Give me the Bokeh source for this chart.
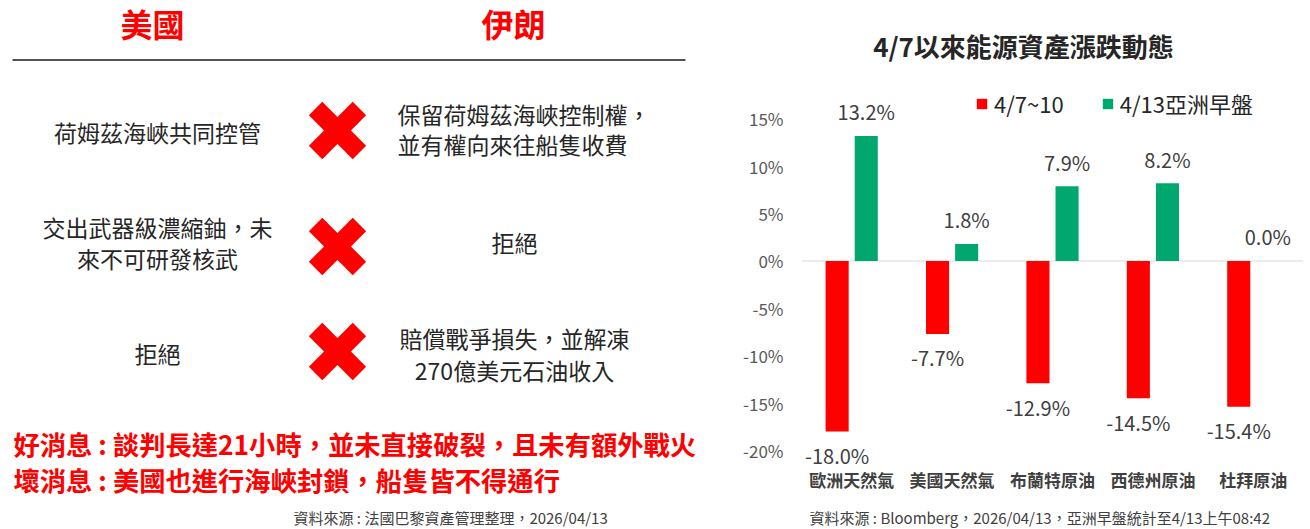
from bokeh.plotting import figure
from bokeh.models import (ColumnDataSource, Range1d, FactorRange, FixedTicker,
                          PrintfTickFormatter, Span, Label, Legend, LegendItem)
from bokeh.transform import dodge
from bokeh.layouts import row
from bokeh.embed import file_html
from bokeh.resources import INLINE
from bokeh.core.properties import value

FONT = "Noto Sans CJK TC"

# ---------------- data ----------------
assets = ["歐洲天然氣", "美國天然氣", "布蘭特原油", "西德州原油", "杜拜原油"]
chg_0407_10 = [-18.0, -7.7, -12.9, -14.5, -15.4]
chg_0413_asia = [13.2, 1.8, 7.9, 8.2, 0.0]
series_names = ["4/7~10", "4/13亞洲早盤"]
y_ticks = [-20, -15, -10, -5, 0, 5, 10, 15]
chart_title = "4/7以來能源資產漲跌動態"
chart_source = "資料來源 : Bloomberg，2026/04/13，亞洲早盤統計至4/13上午08:42"

headers = ["美國", "伊朗"]
us_positions = ["荷姆茲海峽共同控管", "交出武器級濃縮鈾，未\n來不可研發核武", "拒絕"]
iran_positions = ["保留荷姆茲海峽控制權，\n並有權向來往船隻收費", "拒絕",
                  "賠償戰爭損失，並解凍\n270億美元石油收入"]
news = ["好消息 : 談判長達21小時，並未直接破裂，且未有額外戰火",
        "壞消息 : 美國也進行海峽封鎖，船隻皆不得通行"]
left_source = "資料來源 : 法國巴黎資產管理整理，2026/04/13"

RED = "#FF0000"
GREEN = "#00A870"
DARK = "#262626"

# ---------------- left panel (infographic, pixel-like layout space) ----------------
p1 = figure(width=703, height=529, x_range=Range1d(0, 703), y_range=Range1d(529, 0),
            output_backend="svg", toolbar_location=None, title=None,
            x_axis_location=None, y_axis_location=None, min_border=0)
p1.grid.visible = False
p1.outline_line_color = None

row_y = [130, 246, 351]          # row centres (layout)

p1.text(x=[152, 513], y=[22, 22], text=headers, text_font=value(FONT),
        text_font_size="32px", text_font_style="bold", text_color=RED,
        text_align="center", text_baseline="middle")
p1.segment(x0=[12], y0=[59.5], x1=[685], y1=[59.5], line_color="#1a1a1a", line_width=1.5)

p1.text(x=[157], y=[131.7], text=[us_positions[0]], text_font=value(FONT),
        text_font_size="23px", text_color=DARK, text_align="center",
        text_baseline="middle")
p1.text(x=[157], y=[242.3], text=[us_positions[1]], text_font=value(FONT),
        text_font_size="23px", text_color=DARK, text_align="center",
        text_baseline="middle", text_line_height=0.907)
p1.text(x=[157], y=[352.5], text=[us_positions[2]], text_font=value(FONT),
        text_font_size="23px", text_color=DARK, text_align="center",
        text_baseline="middle")

# red crosses
for ang in (0.785398, -0.785398):
    p1.rect(x=[337] * 3, y=row_y, width=62, height=19, angle=ang,
            fill_color=RED, line_color=None)

p1.text(x=[397], y=[128.3], text=[iran_positions[0]], text_font=value(FONT),
        text_font_size="23px", text_color=DARK, text_align="left",
        text_baseline="middle", text_line_height=0.87)
p1.text(x=[514], y=[241.7], text=[iran_positions[1]], text_font=value(FONT),
        text_font_size="23px", text_color=DARK, text_align="center",
        text_baseline="middle")
p1.text(x=[514], y=[353.7], text=[iran_positions[2]], text_font=value(FONT),
        text_font_size="23px", text_color=DARK, text_align="center",
        text_baseline="middle", text_line_height=0.94)

p1.text(x=[13, 13], y=[442.5, 479], text=news, text_font=value(FONT),
        text_font_size="26.3px", text_font_style="bold", text_color=RED,
        text_align="left", text_baseline="middle")
p1.text(x=[293], y=[517], text=[left_source], text_font=value(FONT),
        text_font_size="15px", text_color="#404040", text_align="left",
        text_baseline="middle")

# ---------------- right panel (bar chart) ----------------
src = ColumnDataSource(dict(
    assets=assets, red=chg_0407_10, green=chg_0413_asia,
    red_lbl=[f"{v:.1f}%" for v in chg_0407_10],
    green_lbl=[f"{v:.1f}%" for v in chg_0413_asia],
))

CAT_LABEL_Y = -23.1   # position of category names, in axis units (below -20%)

p2 = figure(width=607, height=529, x_range=FactorRange(*assets),
            y_range=Range1d(-28.35, 27.5), output_backend="svg",
            toolbar_location=None, title=None, x_axis_location=None,
            min_border_left=98, min_border_right=7,
            min_border_top=0, min_border_bottom=0)
p2.grid.visible = False
p2.outline_line_color = None

p2.add_layout(Span(location=0, dimension="width", line_color="#D9D9D9",
                   line_width=1, level="underlay"))

r_red = p2.vbar(x=dodge("assets", -0.145, range=p2.x_range), top="red", bottom=0,
                width=0.23, source=src, fill_color=RED, line_color=None)
r_green = p2.vbar(x=dodge("assets", 0.145, range=p2.x_range), top="green", bottom=0,
                  width=0.23, source=src, fill_color=GREEN, line_color=None)

p2.text(x=dodge("assets", -0.145, range=p2.x_range), y="red", text="red_lbl",
        source=src, y_offset=24, text_align="center", text_baseline="middle",
        text_font=value(FONT), text_font_size="20px", text_color="#404040")
p2.text(x=dodge("assets", 0.145, range=p2.x_range), y="green", text="green_lbl",
        source=src, y_offset=-24, text_align="center", text_baseline="middle",
        text_font=value(FONT), text_font_size="20px", text_color="#404040")

# category names (x axis labels)
p2.text(x="assets", y=CAT_LABEL_Y, text="assets", source=src,
        text_align="center", text_baseline="middle", text_font=value(FONT),
        text_font_size="17px", text_font_style="bold", text_color="#404040")

ya = p2.yaxis[0]
ya.ticker = FixedTicker(ticks=y_ticks)
ya.formatter = PrintfTickFormatter(format="%d%%")
ya.axis_line_color = None
ya.major_tick_line_color = None
ya.minor_tick_line_color = None
ya.major_tick_out = 0
ya.minor_tick_out = 0
ya.major_label_standoff = 18
ya.major_label_text_font = FONT
ya.major_label_text_font_size = "17px"
ya.major_label_text_color = "#595959"

legend = Legend(items=[LegendItem(label=series_names[0], renderers=[r_red]),
                       LegendItem(label=series_names[1], renderers=[r_green])],
                location=(174, 410), orientation="horizontal",
                glyph_width=13, glyph_height=13, label_standoff=6, spacing=37,
                padding=0, margin=0, border_line_color=None,
                background_fill_alpha=0, label_text_font=FONT,
                label_text_font_size="22px", label_text_color=DARK)
p2.add_layout(legend, "center")

p2.add_layout(Label(x=222, y=484, x_units="screen", y_units="screen", text=chart_title,
                    text_align="center", text_baseline="middle", text_font=FONT,
                    text_font_size="26px", text_font_style="bold", text_color=DARK))
p2.add_layout(Label(x=8, y=12.3, x_units="screen", y_units="screen", text=chart_source,
                    text_align="left", text_baseline="middle", text_font=FONT,
                    text_font_size="15px", text_color="#404040"))

layout = row(p1, p2)
open("out.html", "w").write(file_html(layout, INLINE))
